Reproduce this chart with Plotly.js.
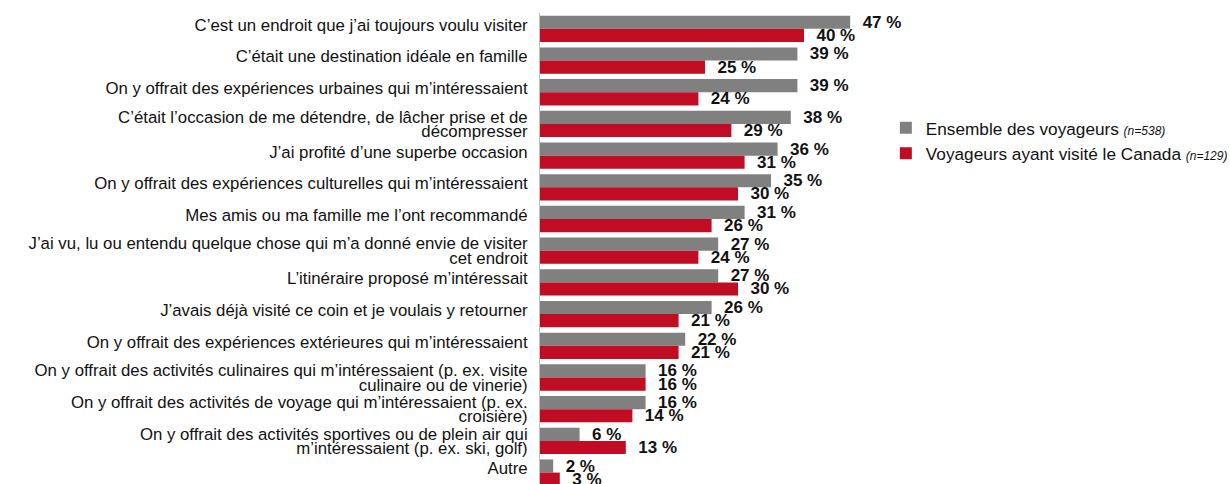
<!DOCTYPE html>
<html>
<head>
<meta charset="utf-8">
<script src="https://cdn.plot.ly/plotly-3.0.1.min.js"></script>
<style>
  body { margin: 0; background: #fff; }
  #plot { width: 1230px; height: 484px; }
</style>
</head>
<body>
<div id="plot"></div>
<script>
// Reasons for choosing the destination
var categories = [
  'C’est un endroit que j’ai toujours voulu visiter',
  'C’était une destination idéale en famille',
  'On y offrait des expériences urbaines qui m’intéressaient',
  'C’était l’occasion de me détendre, de lâcher prise et de<br>décompresser',
  'J’ai profité d’une superbe occasion',
  'On y offrait des expériences culturelles qui m’intéressaient',
  'Mes amis ou ma famille me l’ont recommandé',
  'J’ai vu, lu ou entendu quelque chose qui m’a donné envie de visiter<br>cet endroit',
  'L’itinéraire proposé m’intéressait',
  'J’avais déjà visité ce coin et je voulais y retourner',
  'On y offrait des expériences extérieures qui m’intéressaient',
  'On y offrait des activités culinaires qui m’intéressaient (p. ex. visite<br>culinaire ou de vinerie)',
  'On y offrait des activités de voyage qui m’intéressaient (p. ex.<br>croisière)',
  'On y offrait des activités sportives ou de plein air qui<br>m’intéressaient (p. ex. ski, golf)',
  'Autre'
];
var ensemble = [47, 39, 39, 38, 36, 35, 31, 27, 27, 26, 22, 16, 16, 6, 2];
var canada = [40, 25, 24, 29, 31, 30, 26, 24, 30, 21, 21, 16, 14, 13, 3];
var seriesNames = [
  'Ensemble des voyageurs <i><span style="font-size:12px">(n=538)</span></i>',
  'Voyageurs ayant visité le Canada <i><span style="font-size:12px">(n=129)</span></i>'
];

function labels(vals) {
  return vals.map(function (v) { return '\u00a0\u00a0' + v + ' %'; });
}

var valueFont = { family: 'Liberation Sans, Arial, sans-serif', size: 17, color: '#111', weight: 'bold' };

var traces = [
  {
    type: 'bar',
    orientation: 'h',
    name: seriesNames[0],
    y: categories,
    x: ensemble,
    marker: { color: '#808080' },
    text: labels(ensemble),
    textposition: 'outside',
    constraintext: 'none',
    cliponaxis: false,
    textfont: valueFont,
    hoverinfo: 'x'
  },
  {
    type: 'bar',
    orientation: 'h',
    name: seriesNames[1],
    y: categories,
    x: canada,
    marker: { color: '#c00d24' },
    text: labels(canada),
    textposition: 'outside',
    constraintext: 'none',
    cliponaxis: false,
    textfont: valueFont,
    hoverinfo: 'x'
  }
];

var layout = {
  width: 1230,
  height: 484,
  barmode: 'group',
  bargap: 0.17,
  bargroupgap: 0,
  paper_bgcolor: '#fff',
  plot_bgcolor: '#fff',
  font: { family: 'Liberation Sans, Arial, sans-serif', size: 16.8, color: '#111' },
  margin: { l: 540, r: 360, t: 13, b: 0, autoexpand: false },
  xaxis: {
    range: [0, 50],
    visible: false,
    fixedrange: true
  },
  yaxis: {
    type: 'category',
    range: [14.36, -0.5],
    showline: true,
    linecolor: '#bfbfbf',
    linewidth: 1,
    ticks: '',
    ticklabelstandoff: 8,
    tickfont: { size: 16.8, color: '#111' },
    fixedrange: true
  },
  showlegend: true,
  legend: {
    x: 1.048,
    xanchor: 'left',
    y: 0.729,
    yanchor: 'middle',
    font: { size: 17.2, color: '#111' },
    itemwidth: 30,
    tracegroupgap: 0,
    bgcolor: 'rgba(0,0,0,0)'
  }
};

// tighten line spacing of wrapped category labels, like the original
function tightenLabels() {
  var texts = document.querySelectorAll('#plot .ytick text');
  texts.forEach(function (t) {
    var lines = t.querySelectorAll('tspan.line');
    if (lines.length === 2) {
      var d0 = parseFloat(lines[0].getAttribute('dy')) || 0;
      var d1 = parseFloat(lines[1].getAttribute('dy')) || 0;
      var mid = (d0 + d1) / 2;
      lines[0].setAttribute('dy', (mid - 0.43) + 'em');
      lines[1].setAttribute('dy', (mid + 0.43) + 'em');
    } else if (lines.length === 0) {
      var y = parseFloat(t.getAttribute('y')) || 0;
      t.setAttribute('y', y - 4);
    }
  });
}

Plotly.newPlot('plot', traces, layout, { displayModeBar: false, staticPlot: true }).then(tightenLabels);
</script>
</body>
</html>
